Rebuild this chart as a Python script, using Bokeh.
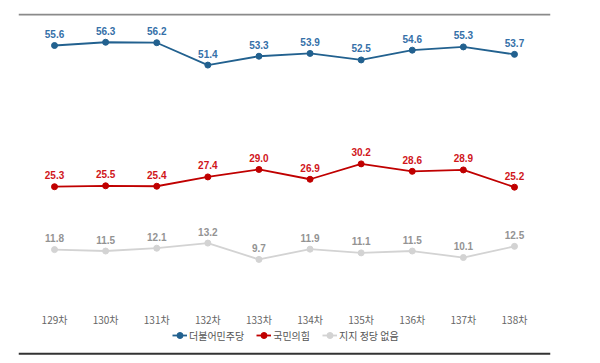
from bokeh.plotting import figure
from bokeh.models import (ColumnDataSource, FactorRange, Range1d, Span, Legend,
                          LegendItem, CategoricalAxis)
from bokeh.core.properties import value
from bokeh.embed import file_html
from bokeh.resources import INLINE

# ---- data ----
rounds = ["129차", "130차", "131차", "132차", "133차", "134차", "135차", "136차", "137차", "138차"]
democratic = [55.6, 56.3, 56.2, 51.4, 53.3, 53.9, 52.5, 54.6, 55.3, 53.7]
ppp = [25.3, 25.5, 25.4, 27.4, 29.0, 26.9, 30.2, 28.6, 28.9, 25.2]
none_party = [11.8, 11.5, 12.1, 13.2, 9.7, 11.9, 11.1, 11.5, 10.1, 12.5]
series_names = ["더불어민주당", "국민의힘", "지지 정당 없음"]

line_colors = ["#22618f", "#c00000", "#d3d3d3"]
label_colors = ["#3570a8", "#d0161b", "#939393"]

p = figure(width=600, height=363, output_backend="svg", toolbar_location=None,
           x_range=FactorRange(*rounds, range_padding=0.041, range_padding_units="percent"),
           y_range=Range1d(-10.92, 62.47),
           min_border_left=18, min_border_right=50, min_border_top=13, min_border_bottom=8,
           x_axis_type=None, y_axis_type=None)
p.outline_line_color = None
p.xgrid.visible = False
p.ygrid.visible = False
p.background_fill_color = "white"
p.border_fill_color = "white"

# frame lines
p.add_layout(Span(location=62.25, dimension="width", line_color="#8a8a8a", line_width=2))
p.add_layout(Span(location=-10.56, dimension="width", line_color="#333333", line_width=2))

items = []
for name, vals, lc, tc in zip(series_names, [democratic, ppp, none_party], line_colors, label_colors):
    src = ColumnDataSource(dict(x=rounds, y=vals, t=[f"{v:.1f}" for v in vals]))
    r1 = p.line("x", "y", source=src, line_color=lc, line_width=1.8)
    r2 = p.scatter("x", "y", source=src, size=6, fill_color=lc, line_color=lc)
    p.text("x", "y", text="t", source=src, text_color=tc, text_font=value("Liberation Sans"),
           text_font_style="bold", text_font_size="10px", text_align="center",
           text_baseline="middle", y_offset=-11.5)
    items.append(LegendItem(label=name, renderers=[r1, r2]))

# category axis placed at y=0 inside frame
ax = CategoricalAxis(fixed_location=0)
ax.axis_line_color = None
ax.major_tick_line_color = None
ax.major_tick_out = 0
ax.major_tick_in = 0
ax.major_label_standoff = 7
ax.major_label_text_font = "Noto Sans CJK KR"
ax.major_label_text_font_size = "10px"
ax.major_label_text_color = "#666666"
p.add_layout(ax, "below")

legend = Legend(items=items, orientation="horizontal", location=(154, 10),
                padding=0, margin=0, spacing=12, label_standoff=2, glyph_width=15,
                glyph_height=20, label_height=20,
                label_text_font="Noto Sans CJK KR", label_text_font_size="10px",
                label_text_color="#555555", border_line_color=None,
                background_fill_alpha=0)
p.add_layout(legend, "center")

open("out.html", "w").write(file_html(p, INLINE))
